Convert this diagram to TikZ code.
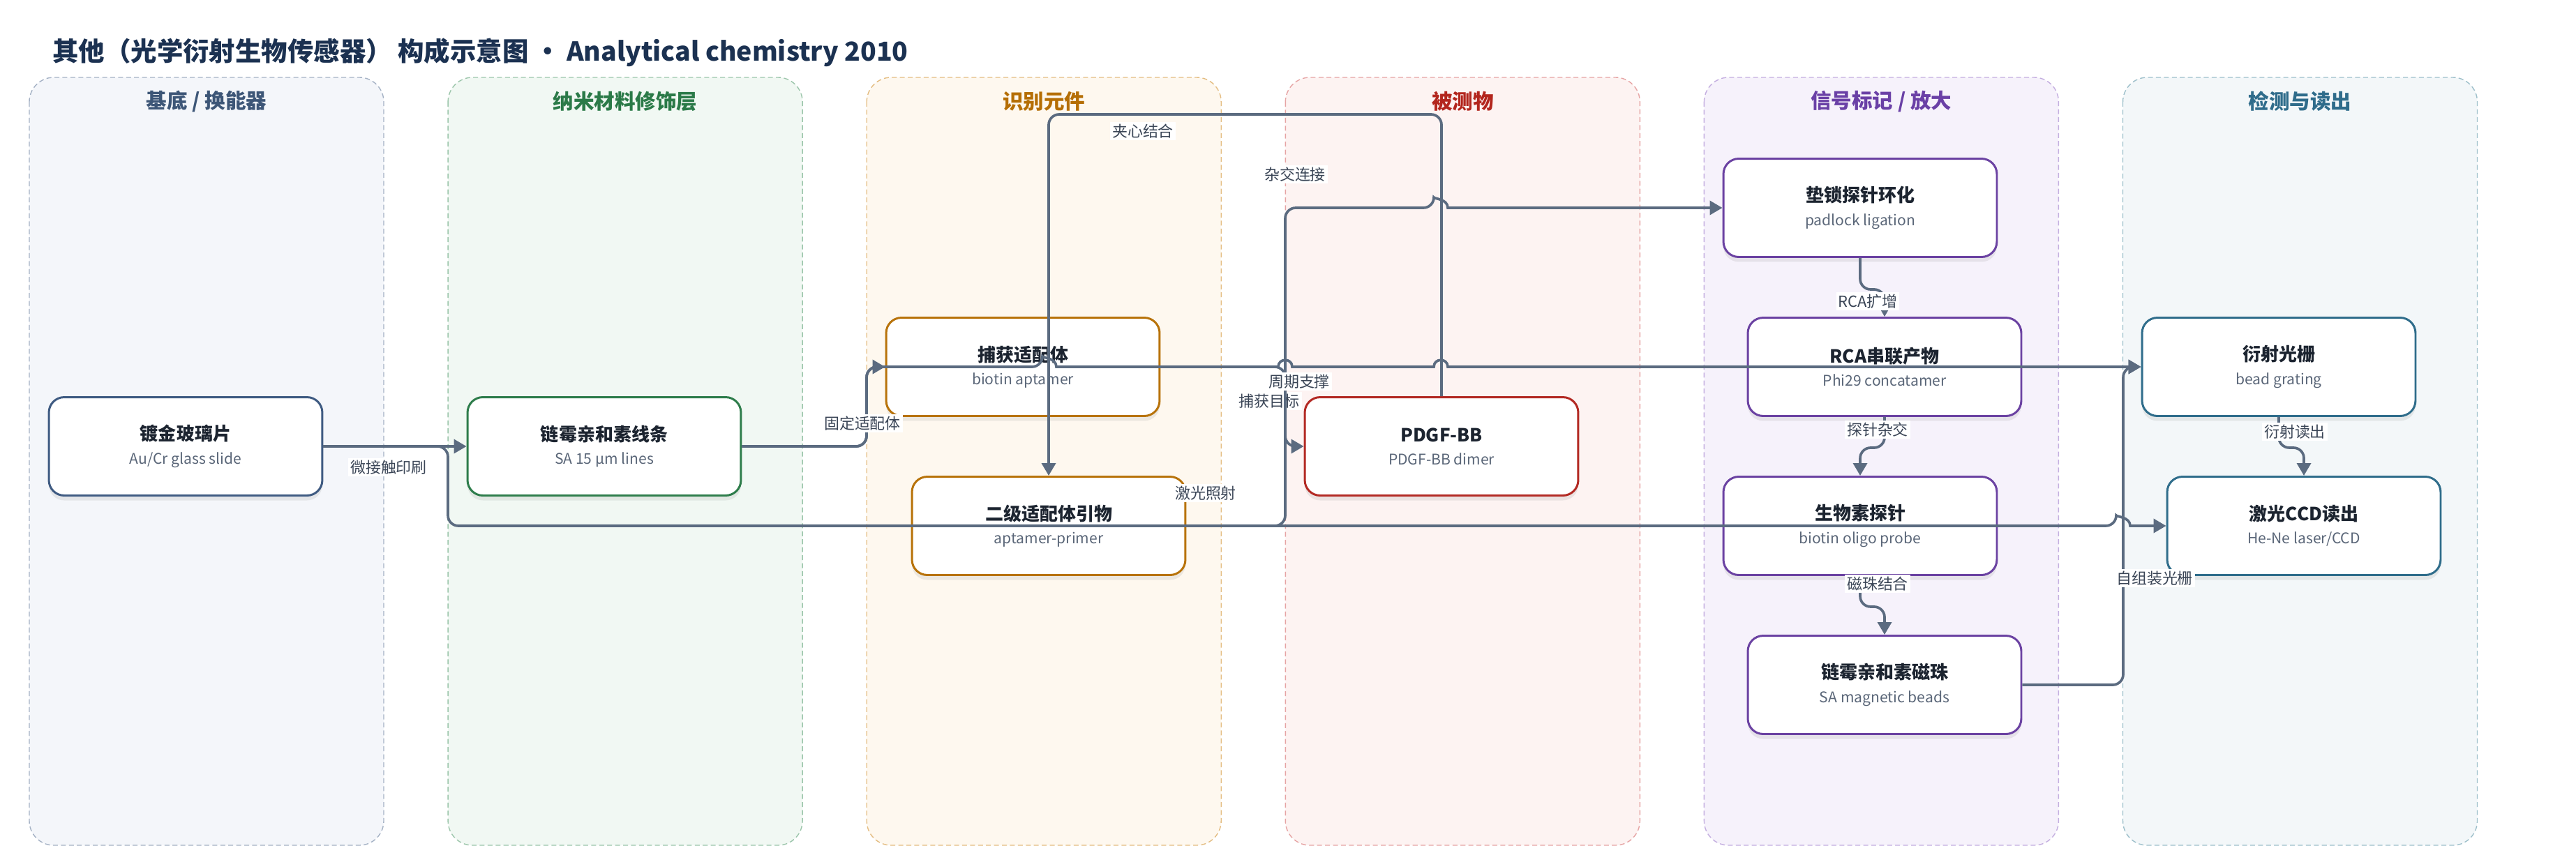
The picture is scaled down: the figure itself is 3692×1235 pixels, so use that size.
\documentclass[tikz,border=0pt]{standalone}
\usepackage{fontspec}
\setmainfont{Noto Sans CJK SC}
\usepackage{tikz}
\usetikzlibrary{shadows}
\usetikzlibrary{positioning}
\usetikzlibrary{arrows.meta}
\usetikzlibrary{calc}

\definecolor{titlecol}{HTML}{1B3151}
\definecolor{edgecol}{HTML}{5B6B80}
\definecolor{lblcol}{HTML}{3A4556}
\definecolor{txtdark}{HTML}{1C2430}
\definecolor{subcol}{HTML}{5A6678}
% lane fill / lane border / lane title / node border
\definecolor{lf0}{HTML}{F4F6FA}\definecolor{lb0}{HTML}{A5B2C5}\definecolor{lt0}{HTML}{3D5677}\definecolor{nb0}{HTML}{3F5B82}
\definecolor{lf1}{HTML}{F1F8F3}\definecolor{lb1}{HTML}{9CC6AB}\definecolor{lt1}{HTML}{2B7A48}\definecolor{nb1}{HTML}{2E7D4B}
\definecolor{lf2}{HTML}{FEF8EF}\definecolor{lb2}{HTML}{E4BD82}\definecolor{lt2}{HTML}{B56E05}\definecolor{nb2}{HTML}{B8730A}
\definecolor{lf3}{HTML}{FDF3F2}\definecolor{lb3}{HTML}{E6A4A4}\definecolor{lt3}{HTML}{B3261E}\definecolor{nb3}{HTML}{B32A24}
\definecolor{lf4}{HTML}{F6F2FB}\definecolor{lb4}{HTML}{C4AEE0}\definecolor{lt4}{HTML}{6A40A6}\definecolor{nb4}{HTML}{6B42A2}
\definecolor{lf5}{HTML}{F3F7F9}\definecolor{lb5}{HTML}{9EC0CB}\definecolor{lt5}{HTML}{2F6C8B}\definecolor{nb5}{HTML}{2F6D8B}

\newcommand{\nt}[2]{{\bfseries\fontsize{14.8}{19}\selectfont\color{txtdark}#1}\\{\color{subcol}#2}}

\tikzset{
  lane/.style={dashed, dash pattern=on 4pt off 2.5pt, line width=0.8pt, rounded corners=0.7cm},
  lanetitle/.style={font=\bfseries\fontsize{16.8}{20}\selectfont, inner sep=0pt},
  box/.style={draw=#1, line width=1.7pt, fill=white, rounded corners=0.44cm,
    minimum width=7.84cm, minimum height=2.82cm, align=center,
    font=\fontsize{12}{19}\selectfont,
    drop shadow={opacity=0.14, shadow xshift=0pt, shadow yshift=-0.14cm}},
  edge/.style={draw=edgecol, line width=2.1pt, rounded corners=0.3cm,
    -{Triangle[length=0.36cm, width=0.4cm]}},
  elabel/.style={fill=white, text=lblcol, font=\fontsize{12.5}{14}\selectfont, inner sep=1.5pt},
  hump/.style args={#1/#2}{insert path={-- (#1-10,#2) [sharp corners]
    .. controls (#1-10,#2-13) and (#1+10,#2-13) .. (#1+10,#2)}}
}

\begin{document}
\begin{tikzpicture}[x=0.02cm, y=-0.02cm]

	\useasboundingbox (0,0) rectangle (3692,1235);
	\fill[white] (0,0) rectangle (3692,1235);

	\node[anchor=west, inner sep=0pt, text=titlecol, font=\bfseries\fontsize{21.3}{25}\selectfont] (title) at (75,75)
		{其他（光学衍射生物传感器） 构成示意图 · Analytical chemistry 2010};

	% lanes
	\def\lx{42}
	\def\lp{600.1}
	\foreach \i/\ttl in {0/{基底 / 换能器},1/纳米材料修饰层,2/识别元件,3/被测物,4/{信号标记 / 放大},5/检测与读出} {
		\draw[lane, fill=lf\i, draw=lb\i] ({\lx+\lp*\i},111) rectangle ++(508,1101);
		\node[lanetitle, text=lt\i] (lane\i) at ({\lx+\lp*\i+254},145) {\ttl};
	}

	% nodes
	\node[box=nb0] (slide)   at (266,640)  {\nt{镀金玻璃片}{Au/Cr glass slide}};
	\node[box=nb1] (salines) at (866,640)  {\nt{链霉亲和素线条}{SA 15 µm lines}};
	\node[box=nb2] (capapt)  at (1466,526) {\nt{捕获适配体}{biotin aptamer}};
	\node[box=nb2] (secapt)  at (1503,754) {\nt{二级适配体引物}{aptamer-primer}};
	\node[box=nb3] (pdgf)    at (2066,640) {\nt{PDGF-BB}{PDGF-BB dimer}};
	\node[box=nb4] (padlock) at (2666,298) {\nt{垫锁探针环化}{padlock ligation}};
	\node[box=nb4] (rca)     at (2701,526) {\nt{RCA串联产物}{Phi29 concatamer}};
	\node[box=nb4] (probe)   at (2666,754) {\nt{生物素探针}{biotin oligo probe}};
	\node[box=nb4] (beads)   at (2701,982) {\nt{链霉亲和素磁珠}{SA magnetic beads}};
	\node[box=nb5] (grating) at (3266,526) {\nt{衍射光栅}{bead grating}};
	\node[box=nb5] (ccd)     at (3302,754) {\nt{激光CCD读出}{He-Ne laser/CCD}};

	% connectors
	\draw[edge] (slide.east) -- (salines.west);
	\draw[edge] (slide.east) -| (642,754) -- (1000,754) [hump=3043/754] -- (ccd.west);
	\draw[edge] (salines.east) -- (1242,640) |- (capapt.west);
	\draw[edge] (salines.east) -- (1242,640) |- (1400,526) [hump=1504/526] [hump=1842/526] [hump=2065/526] -- (grating.west);
	\node[elabel] (lcap) at (1819,575) {捕获目标};
	\draw[edge] (capapt.east) -- (1842,526) |- (pdgf.west);
	\draw[edge] (pdgf.north) -- (2066,164) -| (secapt.north);
	\draw[edge] (secapt.east) -- (1842,754) |- (1950,298) [hump=2065/298] -- (padlock.west);
	\draw[edge] (padlock.south) -- ++(0,45) -| (rca.north);
	\draw[edge] (rca.south) -- ++(0,44) -| (probe.north);
	\draw[edge] (probe.south) -- ++(0,44) -| (beads.north);
	\draw[edge] (grating.south) -- ++(0,44) -| (ccd.north);
	\draw[edge] (beads.east) -- (3043,982) |- (grating.west);

	% connector labels
	\node[elabel] (lmcp)  at (557,670)  {微接触印刷};
	\node[elabel] (llas)  at (1728,707) {激光照射};
	\node[elabel] (lfix)  at (1236,607) {固定适配体};
	\node[elabel] (lper)  at (1862,547) {周期支撑};
	\node[elabel] (lsand) at (1638,188) {夹心结合};
	\node[elabel] (lhyb)  at (1856,250) {杂交连接};
	\node[elabel] (lrca)  at (2677,432) {RCA扩增};
	\node[elabel] (lprb)  at (2691,616) {探针杂交};
	\node[elabel] (lmag)  at (2691,837) {磁珠结合};
	\node[elabel] (ldif)  at (3289,619) {衍射读出};
	\node[elabel] (lself) at (3088,829) {自组装光栅};

\end{tikzpicture}
\end{document}
